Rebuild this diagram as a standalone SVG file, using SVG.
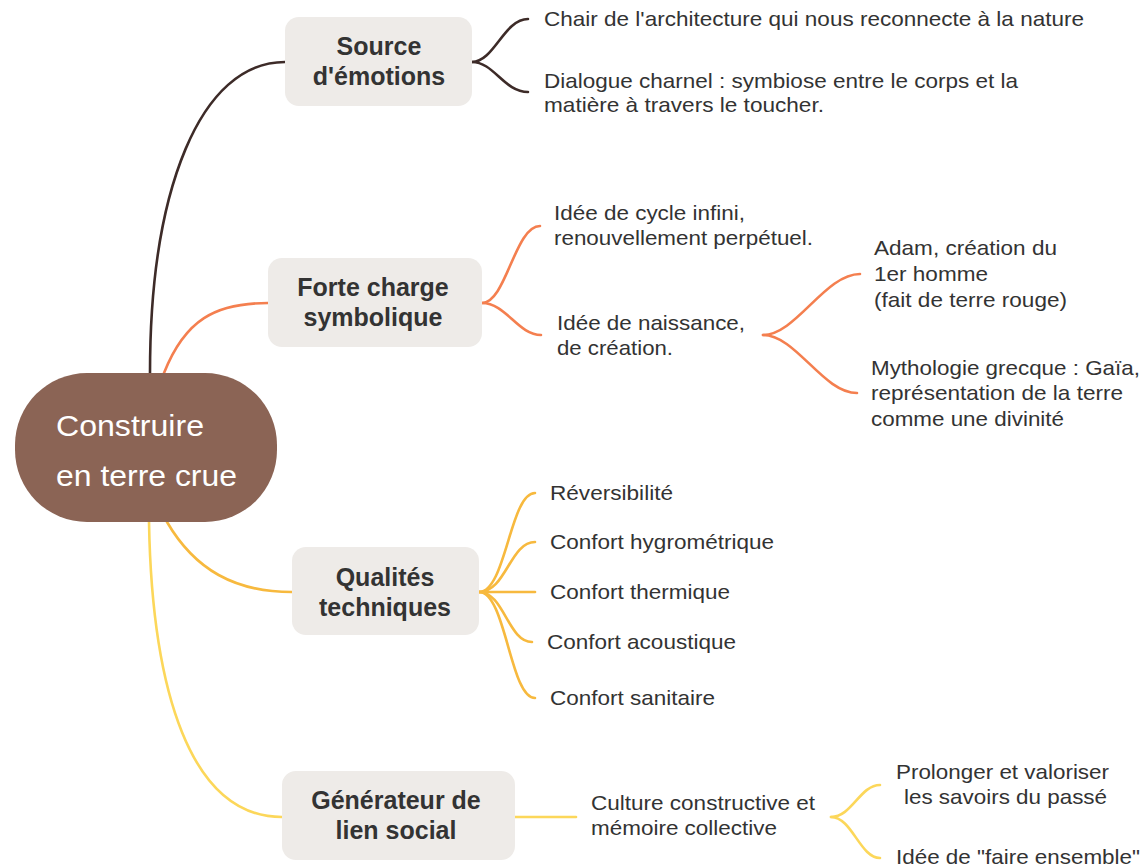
<svg xmlns="http://www.w3.org/2000/svg" width="1148" height="868" viewBox="0 0 1148 868">
<style>
.box{fill:#eeebe8}
.t{font-family:"Liberation Sans",Arial,sans-serif;font-size:21px;fill:#333333}
.b{font-family:"Liberation Sans",Arial,sans-serif;font-size:25px;font-weight:bold;fill:#333333;text-anchor:middle}
.c{font-family:"Liberation Sans",Arial,sans-serif;font-size:29px;fill:#ffffff}
.l{fill:none;stroke-width:2.6;stroke-linecap:round}
.brown{stroke:#3d2b28}
.orange{stroke:#f47f4f}
.amber{stroke:#f7b93e}
.yellow{stroke:#fcd75a}
</style>
<rect width="1148" height="868" fill="#ffffff"/>
<g id="connectors">
<path class="l brown" d="M150,373 C150,190 200,62 285,62"/>
<path class="l orange" d="M164,373 C185,320 215,303 268,303"/>
<path class="l amber" d="M167,522 C195,570 235,592 292,592"/>
<path class="l yellow" d="M149,522 C152,690 190,817 282,817"/>
<path class="l brown" d="M472,62 C494,62 504,19 528,19"/>
<path class="l brown" d="M472,62 C494,62 504,92 528,92"/>
<path class="l orange" d="M482,303 C506,303 515,226 540,226"/>
<path class="l orange" d="M482,303 C506,303 518,335 541,335"/>
<path class="l orange" d="M763,335 C796,335 825,274 860,274"/>
<path class="l orange" d="M763,335 C796,335 823,393 857,393"/>
<path class="l amber" d="M479,592 C506,592 510,493 535,493"/>
<path class="l amber" d="M479,592 C506,592 510,542 535,542"/>
<path class="l amber" d="M479,592 L535,592"/>
<path class="l amber" d="M479,592 C504,592 508,642 532,642"/>
<path class="l amber" d="M479,592 C506,592 510,698 535,698"/>
<path class="l yellow" d="M515,817 L576,817"/>
<path class="l yellow" d="M831,817 C852,817 860,785 880,785"/>
<path class="l yellow" d="M831,817 C852,817 860,858 880,858"/>
</g>
<g id="root">
<rect x="15" y="373" width="262" height="149" rx="72" fill="#8b6455"/>
<text class="c" x="56" y="436" textLength="148" lengthAdjust="spacingAndGlyphs">Construire</text>
<text class="c" x="56" y="486" textLength="181" lengthAdjust="spacingAndGlyphs">en terre crue</text>
</g>
<g id="source">
<rect class="box" x="285" y="17" width="187" height="89" rx="14"/>
<text class="b" x="379" y="55">Source</text>
<text class="b" x="379" y="85">d'émotions</text>
</g>
<g id="forte">
<rect class="box" x="268" y="258" width="214" height="89" rx="14"/>
<text class="b" x="373" y="296">Forte charge</text>
<text class="b" x="373" y="326">symbolique</text>
</g>
<g id="qualites">
<rect class="box" x="292" y="547" width="187" height="88" rx="14"/>
<text class="b" x="385" y="586">Qualités</text>
<text class="b" x="385" y="616">techniques</text>
</g>
<g id="generateur">
<rect class="box" x="282" y="771" width="233" height="89" rx="14"/>
<text class="b" x="396" y="809">Générateur de</text>
<text class="b" x="396" y="839">lien social</text>
</g>
<g id="source-children">
<text class="t" x="544" y="26" textLength="540" lengthAdjust="spacingAndGlyphs">Chair de l'architecture qui nous reconnecte à la nature</text>
<text class="t" x="544" y="88" textLength="474" lengthAdjust="spacingAndGlyphs">Dialogue charnel : symbiose entre le corps et la</text>
<text class="t" x="544" y="112" textLength="280" lengthAdjust="spacingAndGlyphs">matière à travers le toucher.</text>
</g>
<g id="forte-children">
<text class="t" x="554" y="220" textLength="191" lengthAdjust="spacingAndGlyphs">Idée de cycle infini,</text>
<text class="t" x="554" y="245" textLength="259" lengthAdjust="spacingAndGlyphs">renouvellement perpétuel.</text>
<text class="t" x="557" y="330" textLength="188" lengthAdjust="spacingAndGlyphs">Idée de naissance,</text>
<text class="t" x="557" y="355" textLength="116" lengthAdjust="spacingAndGlyphs">de création.</text>
</g>
<g id="naissance-children">
<text class="t" x="874" y="255" textLength="183" lengthAdjust="spacingAndGlyphs">Adam, création du</text>
<text class="t" x="874" y="281" textLength="114" lengthAdjust="spacingAndGlyphs">1er homme</text>
<text class="t" x="874" y="307" textLength="193" lengthAdjust="spacingAndGlyphs">(fait de terre rouge)</text>
<text class="t" x="871" y="375" textLength="269" lengthAdjust="spacingAndGlyphs">Mythologie grecque : Gaïa,</text>
<text class="t" x="871" y="400" textLength="252" lengthAdjust="spacingAndGlyphs">représentation de la terre</text>
<text class="t" x="871" y="426" textLength="193" lengthAdjust="spacingAndGlyphs">comme une divinité</text>
</g>
<g id="qualites-children">
<text class="t" x="550" y="500" textLength="123" lengthAdjust="spacingAndGlyphs">Réversibilité</text>
<text class="t" x="550" y="549" textLength="224" lengthAdjust="spacingAndGlyphs">Confort hygrométrique</text>
<text class="t" x="550" y="599" textLength="180" lengthAdjust="spacingAndGlyphs">Confort thermique</text>
<text class="t" x="547" y="649" textLength="189" lengthAdjust="spacingAndGlyphs">Confort acoustique</text>
<text class="t" x="550" y="705" textLength="165" lengthAdjust="spacingAndGlyphs">Confort sanitaire</text>
</g>
<g id="generateur-children">
<text class="t" x="591" y="810" textLength="224" lengthAdjust="spacingAndGlyphs">Culture constructive et</text>
<text class="t" x="591" y="835" textLength="186" lengthAdjust="spacingAndGlyphs">mémoire collective</text>
<text class="t" x="896" y="779" textLength="213" lengthAdjust="spacingAndGlyphs">Prolonger et valoriser</text>
<text class="t" x="904" y="804" textLength="203" lengthAdjust="spacingAndGlyphs">les savoirs du passé</text>
<text class="t" x="896" y="864" textLength="244" lengthAdjust="spacingAndGlyphs">Idée de "faire ensemble"</text>
</g>
</svg>
